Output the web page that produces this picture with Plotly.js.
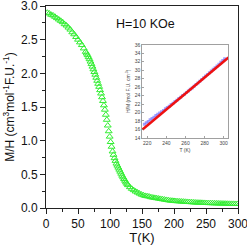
<!DOCTYPE html>
<html>
<head>
<meta charset="utf-8">
<script src="https://cdn.plot.ly/plotly-3.0.1.min.js"></script>
<style>html,body{margin:0;padding:0;background:#fff;}#plot{width:247px;height:245px;}</style>
</head>
<body>
<div id="plot"></div>
<script>
// Main curve: M/H vs T
const mainT = [2,5,8,11,14,17,20,23,26,29,32,35,38,41,44,47,50,53,56,59,62,63.5,65,66.5,68,69.5,71,72.5,74,75.5,77,78.5,80,81.5,83,84.5,86,87.5,89,90.5,92,93.5,95,96.5,98,99.5,101,102.5,104,105.5,107,108.5,110,111.5,113,114.5,116,117.5,119,120.5,122,123.5,125,126.5,128,131,134,137,140,143,146,149,152,155,158,161,164,167,170,173,176,179,182,185,188,191,194,197,200,203,206,209,212,215,218,221,224,227,230,233,236,239,242,245,248,251,254,257,260,263,266,269,272,275,278,281,284,287,290,293,296,299];
const mainMH = [2.90,2.89,2.87,2.86,2.84,2.82,2.80,2.78,2.76,2.73,2.71,2.68,2.65,2.61,2.58,2.54,2.50,2.46,2.42,2.37,2.32,2.295,2.27,2.24,2.21,2.175,2.14,2.10,2.06,2.02,1.98,1.935,1.89,1.845,1.80,1.75,1.70,1.645,1.59,1.525,1.46,1.385,1.31,1.225,1.14,1.06,0.98,0.91,0.84,0.79,0.74,0.70,0.66,0.63,0.60,0.57,0.54,0.51,0.48,0.455,0.43,0.405,0.38,0.36,0.34,0.31,0.285,0.265,0.245,0.23,0.215,0.20,0.19,0.18,0.175,0.17,0.16,0.155,0.15,0.145,0.14,0.135,0.13,0.125,0.12,0.115,0.11,0.108,0.105,0.102,0.10,0.098,0.096,0.094,0.092,0.09,0.088,0.086,0.084,0.082,0.08,0.079,0.078,0.076,0.075,0.074,0.073,0.072,0.071,0.07,0.069,0.068,0.067,0.066,0.065,0.064,0.063,0.062,0.061,0.061,0.06,0.06];

// Inset: H/M vs T and linear fit
const insetT = [217,219,221,223,225,227,229,231,233,235,237,239,241,243,245,247,249,251,253,255,257,259,261,263,265,267,269,271,273,275,277,279,281,283,285,287,289,291,293,295,297,299,301];
const insetHM = [17.2,17.6,17.9,18.3,18.6,18.9,19.3,19.6,19.9,20.2,20.5,20.9,21.2,21.5,21.9,22.2,22.6,22.9,23.3,23.6,24.0,24.3,24.7,25.1,25.5,25.8,26.2,26.6,27.0,27.4,27.8,28.2,28.6,29.0,29.4,29.8,30.2,30.6,31.0,31.4,31.9,32.3,32.7];
const fitT = [215, 305];
const fitHM = [16.0, 33.0];

const mainXTicks = [0,50,100,150,200,250,300];
const mainYTicks = [0.0,0.5,1.0,1.5,2.0,2.5,3.0];
const insetXTicks = [220,240,260,280,300];
const insetYTicks = [14,16,18,20,22,24,26,28,30,32,34,36];

const font = 'Liberation Sans, Arial, sans-serif';
const axisColor = '#222';

const traces = [
  {x: mainT, y: mainMH, type: 'scatter', mode: 'markers', xaxis: 'x', yaxis: 'y',
   marker: {symbol: 'triangle-up-open', size: 6, color: '#33ee33', line: {width: 1, color: '#33ee33'}},
   showlegend: false, hoverinfo: 'skip'},
  {x: insetT, y: insetHM, type: 'scatter', mode: 'markers', xaxis: 'x2', yaxis: 'y2',
   marker: {symbol: 'square', size: 3, color: 'rgba(120,120,255,0.7)'},
   showlegend: false, hoverinfo: 'skip'},
  {x: fitT, y: fitHM, type: 'scatter', mode: 'lines', xaxis: 'x2', yaxis: 'y2',
   line: {color: '#ee1111', width: 2.5}, showlegend: false, hoverinfo: 'skip'}
];

const layout = {
  width: 247, height: 245,
  margin: {l: 46, r: 9, t: 6, b: 37},
  paper_bgcolor: '#fff', plot_bgcolor: '#fff',
  font: {family: font, color: '#111', size: 12},
  xaxis: {
    domain: [0, 1], range: [0, 300], tickvals: mainXTicks, ticktext: mainXTicks.map(String),
    ticks: 'outside', ticklen: 5, tickwidth: 1, tickcolor: axisColor,
    showline: true, linecolor: axisColor, linewidth: 1, mirror: true,
    showgrid: false, zeroline: false, ticklabeloverflow: 'allow',
    minor: {dtick: 25, ticks: 'outside', ticklen: 3, tickcolor: axisColor},
    tickfont: {size: 12, family: font},
    title: {text: 'T(K)', font: {size: 13, family: font}, standoff: 2}
  },
  yaxis: {
    domain: [0, 1], range: [0, 3], tickvals: mainYTicks, ticktext: mainYTicks.map(v => v.toFixed(1)),
    ticks: 'outside', ticklen: 5, tickwidth: 1, tickcolor: axisColor,
    showline: true, linecolor: axisColor, linewidth: 1, mirror: true,
    showgrid: false, zeroline: false, ticklabeloverflow: 'allow',
    minor: {dtick: 0.25, ticks: 'outside', ticklen: 3, tickcolor: axisColor},
    tickfont: {size: 12, family: font},
    title: {text: 'M/H (cm<sup>3</sup>mol<sup>-1</sup>F.U.<sup>-1</sup>)', font: {size: 12, family: font}, standoff: 3}
  },
  xaxis2: {
    domain: [0.5, 0.948], anchor: 'y2', range: [214.5, 304.5], tickvals: insetXTicks, ticktext: insetXTicks.map(String),
    ticks: 'inside', ticklen: 2, tickcolor: '#666', tickwidth: 0.6,
    showline: true, linecolor: '#777', linewidth: 0.7, mirror: true,
    showgrid: false, zeroline: false,
    tickfont: {size: 5, family: font, color: '#444'},
    title: {text: 'T (K)', font: {size: 5, family: font, color: '#444'}, standoff: 3}
  },
  yaxis2: {
    domain: [0.347, 0.808], anchor: 'x2', range: [14, 36], tickvals: insetYTicks, ticktext: insetYTicks.map(String),
    ticks: 'inside', ticklen: 2, tickcolor: '#666', tickwidth: 0.6,
    showline: true, linecolor: '#777', linewidth: 0.7, mirror: true,
    showgrid: false, zeroline: false,
    tickfont: {size: 5, family: font, color: '#444'},
    title: {text: 'H/M (mol F.U. cm<sup>-3</sup>)', font: {size: 5, family: font, color: '#444'}, standoff: 3}
  },
  annotations: [
    {text: 'H=10 KOe', xref: 'paper', yref: 'paper', x: 0.52, y: 0.91, xanchor: 'center', yanchor: 'middle',
     showarrow: false, font: {size: 12.5, family: font, color: '#111'}}
  ]
};

Plotly.newPlot('plot', traces, layout, {displayModeBar: false, staticPlot: true});
</script>
</body>
</html>
